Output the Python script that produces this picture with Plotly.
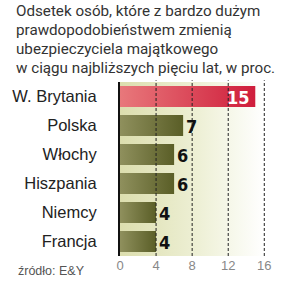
import plotly.graph_objects as go

categories = ["W. Brytania", "Polska", "Włochy", "Hiszpania", "Niemcy", "Francja"]
values = [15, 7, 6, 6, 4, 4]
x_ticks = [0, 4, 8, 12, 16]
title_lines = [
    "Odsetek osób, które z bardzo dużym",
    "prawdopodobieństwem zmienią",
    "ubezpieczyciela majątkowego",
    "w ciągu najbliższych pięciu lat, w proc.",
]
source = "źródło: E&Y"
highlight = "W. Brytania"

W, H = 283, 285
ML, MR, MT, MB = 113, 15, 82, 28
plot_h = H - MT - MB
xmax = 16.3
half = 0.36
n = len(categories)

fig = go.Figure()

# background gradient band
fig.add_trace(go.Scatter(
    x=[0, x_ticks[-1], x_ticks[-1], 0, 0],
    y=[-0.5, -0.5, n - 0.5, n - 0.5, -0.5],
    mode="lines", line=dict(width=0), fill="toself",
    fillgradient=dict(type="horizontal",
                      colorscale=[[0, "#dcdeae"], [0.55, "#eef0d6"], [1, "#ffffff"]]),
    hoverinfo="skip", showlegend=False,
))

olive = [[0, "#8f905d"], [1, "#5a5e27"]]
red = [[0, "#e8787b"], [1, "#cf1d3b"]]

for i, (c, v) in enumerate(zip(categories, values)):
    fig.add_trace(go.Scatter(
        x=[0, v, v, 0, 0],
        y=[i - half, i - half, i + half, i + half, i - half],
        mode="lines", line=dict(width=0), fill="toself",
        fillgradient=dict(type="horizontal", colorscale=red if c == highlight else olive),
        hoverinfo="skip", showlegend=False,
    ))
    if c == highlight:
        fig.add_annotation(x=v, y=i, text=str(v), showarrow=False, xanchor="right",
                           xshift=-3, yshift=-1,
                           font=dict(family="DejaVu Sans Condensed", size=18, color="white",
                                     weight="bold"))
    else:
        fig.add_annotation(x=v, y=i, text=str(v), showarrow=False, xanchor="left",
                           xshift=1, yshift=-1,
                           font=dict(family="DejaVu Sans Condensed", size=18, color="#111",
                                     weight="bold"))

# dashed gridlines above bars
for t in x_ticks[1:]:
    fig.add_shape(type="line", x0=t, x1=t, xref="x", yref="paper", y0=0, y1=1.01,
                  line=dict(color="#222", width=1, dash="3px,2px"), layer="above")

# title lines
baselines = [16, 35, 54, 73]
for line, b in zip(title_lines, baselines):
    fig.add_annotation(text=line, xref="paper", yref="paper",
                       x=(1 - ML) / (W - ML - MR), y=1 + (MT - b) / plot_h,
                       xanchor="left", yanchor="bottom", yshift=-6, showarrow=False,
                       font=dict(family="Roboto", size=15.2, color="#333"))

fig.add_annotation(text=source, xref="paper", yref="paper",
                   x=(3 - ML) / (W - ML - MR), y=-(272 - (H - MB)) / plot_h,
                   xanchor="left", yanchor="middle", showarrow=False,
                   font=dict(family="Liberation Sans", size=12.5, color="#555"))

fig.update_layout(
    width=W, height=H,
    margin=dict(l=ML, r=MR, t=MT, b=MB, pad=0),
    paper_bgcolor="white", plot_bgcolor="white",
    showlegend=False,
    xaxis=dict(range=[0, xmax], tickvals=x_ticks, ticktext=[str(t) for t in x_ticks],
               showgrid=False, zeroline=False, showline=False, ticks="",
               tickfont=dict(family="Liberation Sans", size=13, color="#888"),
               fixedrange=True),
    yaxis=dict(range=[n - 0.5, -0.5], tickvals=list(range(n)), ticktext=categories,
               showgrid=False, zeroline=False, showline=True, linecolor="#111", linewidth=2,
               ticks="", ticklabelstandoff=18,
               tickfont=dict(family="Liberation Sans", size=16.5, color="#222"),
               fixedrange=True),
)

fig.write_html("out.html")
